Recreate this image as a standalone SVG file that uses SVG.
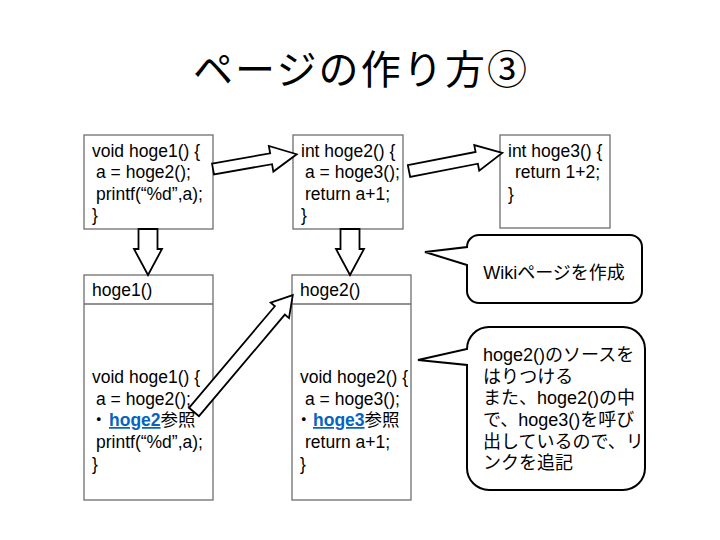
<svg xmlns="http://www.w3.org/2000/svg" width="720" height="540" viewBox="0 0 720 540">
<style>
text{font-family:"Liberation Sans","Noto Sans CJK JP",sans-serif;font-size:17.5px;fill:#000}
.title{font-family:"Noto Sans CJK JP","Liberation Sans",sans-serif;font-size:40px}
.co{font-size:18px}
.box{fill:#fff;stroke:#6e6e6e;stroke-width:1.3}
.arrow{fill:#fff;stroke:#000;stroke-width:1.8;stroke-linejoin:miter}
.callout{fill:#fff;stroke:#000;stroke-width:2}
.link{fill:#0563C1;font-weight:bold;text-decoration:underline}
</style>
<rect width="720" height="540" fill="#fff"/>
<text class="title" x="193" y="84" textLength="334" lengthAdjust="spacing">ページの作り方③</text>

<g id="hoge1-src">
<rect class="box" x="84" y="135" width="129" height="94"/>
<text x="92" y="157">void hoge1() {</text>
<text x="96" y="178">a = hoge2();</text>
<text x="96" y="200">printf(“%d”,a);</text>
<text x="92" y="221">}</text>
</g>

<g id="hoge2-src">
<rect class="box" x="293" y="135" width="110" height="94"/>
<text x="301" y="157">int hoge2() {</text>
<text x="305" y="178">a = hoge3();</text>
<text x="305" y="200">return a+1;</text>
<text x="301" y="221">}</text>
</g>

<g id="hoge3-src">
<rect class="box" x="500" y="135" width="110" height="93"/>
<text x="508" y="157">int hoge3() {</text>
<text x="515" y="178">return 1+2;</text>
<text x="508" y="200">}</text>
</g>

<g id="hoge1-page">
<rect class="box" x="84" y="275" width="129" height="225"/>
<line class="box" x1="84" y1="304" x2="213" y2="304"/>
<text x="92" y="296">hoge1()</text>
<text x="92" y="383">void hoge1() {</text>
<text x="96" y="405">a = hoge2();</text>
<text x="90" y="426"><tspan>・</tspan><tspan class="link" x="109">hoge2</tspan><tspan>参照</tspan></text>
<text x="96" y="448">printf(“%d”,a);</text>
<text x="92" y="470">}</text>
</g>

<g id="hoge2-page">
<rect class="box" x="292" y="275" width="119" height="225"/>
<line class="box" x1="292" y1="304" x2="411" y2="304"/>
<text x="300" y="296">hoge2()</text>
<text x="300" y="383">void hoge2() {</text>
<text x="305" y="405">a = hoge3();</text>
<text x="295" y="426"><tspan>・</tspan><tspan class="link" x="313">hoge3</tspan><tspan>参照</tspan></text>
<text x="305" y="448">return a+1;</text>
<text x="300" y="470">}</text>
</g>

<g id="callout-create">
<path class="callout" d="M479,235 H630 A12,12 0 0 1 642,247 V291 A12,12 0 0 1 630,303 H479 A12,12 0 0 1 467,291 V265 L425,252 L467,247 A12,12 0 0 1 479,235 Z"/>
<text class="co" x="554" y="279" text-anchor="middle">Wikiページを作成</text>
</g>

<g id="callout-paste">
<path class="callout" d="M489,327 H623 A22,22 0 0 1 645,349 V468 A22,22 0 0 1 623,490 H489 A22,22 0 0 1 467,468 V365 L418,360 L467,349 A22,22 0 0 1 489,327 Z"/>
<text class="co" x="483" y="361">hoge2()のソースを</text>
<text class="co" x="483" y="383">はりつける</text>
<text class="co" x="483" y="404">また、hoge2()の中</text>
<text class="co" x="483" y="426">で、hoge3()を呼び</text>
<text class="co" x="483" y="448">出しているので、リ</text>
<text class="co" x="483" y="469">ンクを追記</text>
</g>

<g id="connectors">
<polygon class="arrow" points="0,-5.5 59,-5.5 59,-13 85,0 59,13 59,5.5 0,5.5" transform="translate(213,169) rotate(-10)"/>
<polygon class="arrow" points="0,-6 69,-6 69,-13 95,0 69,13 69,6 0,6" transform="translate(409,171) rotate(-11)"/>
<polygon class="arrow" points="138.5,229 157.5,229 157.5,249 162,249 148,275 134,249 138.5,249"/>
<polygon class="arrow" points="340.5,229 359.5,229 359.5,249 364,249 350,275 336,249 340.5,249"/>
<polygon class="arrow" points="0,-6.5 133,-6.5 133,-12 153,0 133,12 133,6.5 0,6.5" transform="translate(194,412) rotate(-49.8)"/>
</g>
</svg>
